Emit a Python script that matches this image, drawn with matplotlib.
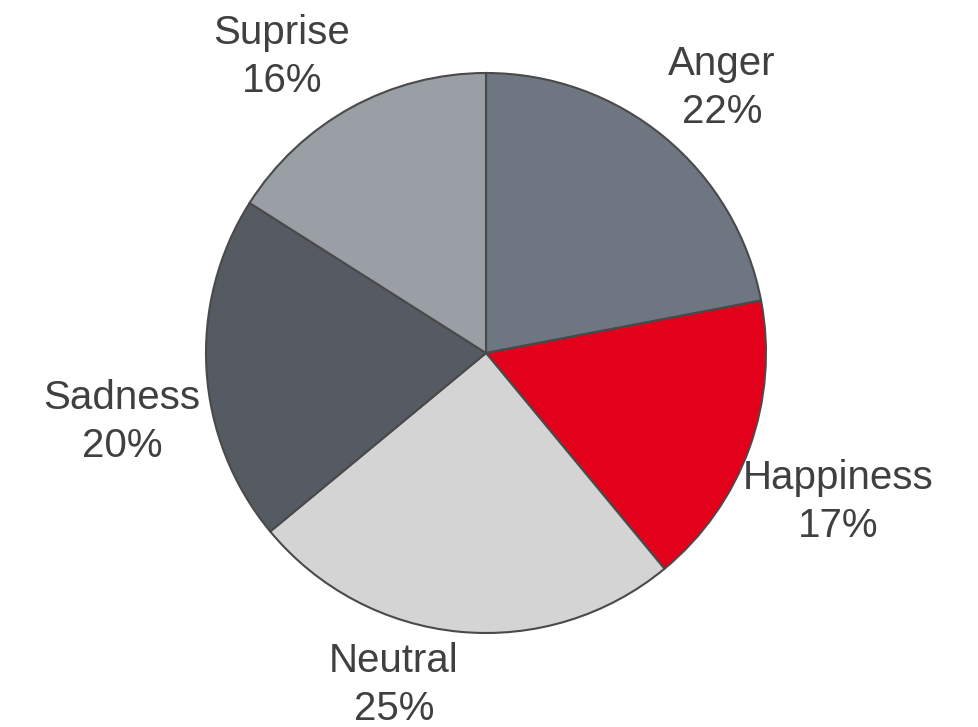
import matplotlib
matplotlib.use("Agg")
import matplotlib.pyplot as plt

categories = ["Anger", "Happiness", "Neutral", "Sadness", "Suprise"]
values = [22, 17, 25, 20, 16]
colors = ["#6e7682", "#e2001a", "#d4d4d4", "#565a62", "#9a9ea5"]

# label centers in pixel coordinates (x, y from top)
label_px = [(722, 88), (838, 502), (394, 685), (122, 422), (282, 57)]

W, H = 979, 727
cx, cy, R = 486, 353, 280

fig = plt.figure(figsize=(W / 100, H / 100), dpi=100)
ax = fig.add_axes([0, 0, 1, 1])
ax.pie(values, colors=colors, startangle=90, counterclock=False, radius=1,
       wedgeprops=dict(edgecolor="#4a4a4a", linewidth=1.5))
ax.set_xlim(-cx / R, (W - cx) / R)
ax.set_ylim(-(H - cy) / R, cy / R)
ax.set_aspect("equal")
ax.axis("off")

for cat, v, (px, py) in zip(categories, values, label_px):
    ax.text((px - cx) / R, (cy - py) / R, f"{cat}\n{v}%", ha="center", va="center",
            fontsize=29, family="Liberation Sans", color="#404040", linespacing=1.32)

fig.savefig("out.png", dpi=100)
